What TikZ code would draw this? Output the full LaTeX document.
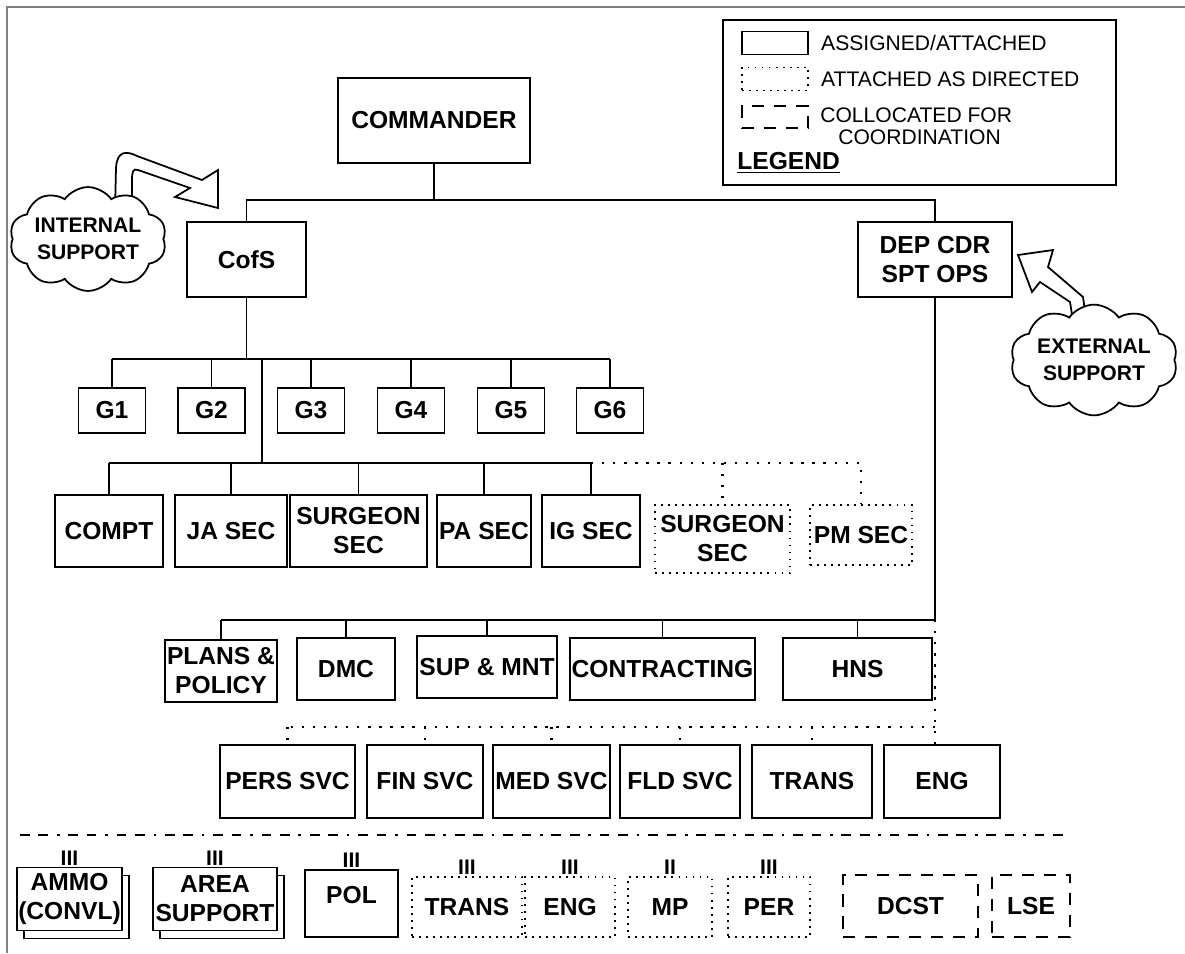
\documentclass[tikz,border=0pt]{standalone}
\usepackage{fontspec}
\setmainfont{Liberation Sans}
\usetikzlibrary{positioning, shapes.symbols, shadows}

\begin{document}
\begin{tikzpicture}[x=0.02cm,y=-0.02cm,
	unit/.style={draw, fill=white, line width=1pt, align=center, inner sep=0pt, font=\bfseries\fontsize{14}{16.5}\selectfont},
	adir/.style={unit, dash pattern=on 1pt off 3pt},
	coll/.style={unit, line width=1.6pt, dash pattern=on 7pt off 5.5pt},
	stack/.style={copy shadow={shadow xshift=0.14cm, shadow yshift=-0.16cm, draw=black, fill=white, line width=1pt}},
	link/.style={line width=1pt},
	dlink/.style={line width=1.3pt, dash pattern=on 1.3pt off 5pt},
	sup/.style={cloud, draw, fill=white, line width=1pt, cloud puffs=10, cloud puff arc=110, aspect=1.8, align=center, inner sep=0pt, font=\bfseries\fontsize{12}{15}\selectfont},
	ech/.style={inner sep=0pt, font=\bfseries\fontsize{12}{12}\selectfont},
	key/.style={anchor=west, inner sep=0pt, font=\fontsize{12}{14}\selectfont}]
	\useasboundingbox (0,0) rectangle (1185,953);
	\draw[gray, line width=1.2pt] (7,953) -- (7,7) -- (1185,7);

	\draw[line width=1pt] (723,20) rectangle (1116,185);
	\node[draw, line width=1pt, minimum width=1.32cm, minimum height=0.46cm] (kA) at (775,43) {};
	\node[key, right=0.24cm of kA] {ASSIGNED/ATTACHED};
	\node[draw, line width=1pt, dash pattern=on 1pt off 3pt, minimum width=1.32cm, minimum height=0.46cm] (kB) at (775,79) {};
	\node[key, right=0.24cm of kB] {ATTACHED AS DIRECTED};
	\node[draw, line width=1.6pt, dash pattern=on 7pt off 5.5pt, minimum width=1.32cm, minimum height=0.44cm] (kC) at (775,117) {};
	\node[key] at (820,115) {COLLOCATED FOR};
	\node[key] at (838,137) {COORDINATION};
	\node[anchor=west, inner sep=0pt, font=\bfseries\fontsize{14}{16}\selectfont] at (737,163) {\underline{LEGEND}};

	\node[unit, minimum width=3.84cm, minimum height=1.7cm] (CDR) at (434,120.5) {COMMANDER};
	\node[unit, minimum width=2.38cm, minimum height=1.5cm] (CofS) at (246.5,259.5) {CofS};
	\node[unit, minimum width=3.08cm, minimum height=1.5cm] (DEP) at (935,259.5) {DEP CDR\\SPT OPS};

	\foreach \n/\x in {1/112,2/211.5,3/311,4/411,5/511,6/610}
		\node[unit, minimum width=1.34cm, minimum height=0.9cm] (G\n) at (\x,410.5) {G\n};

	\node[unit, minimum width=2.16cm, minimum height=1.44cm] (COMPT) at (109,531) {COMPT};
	\node[unit, minimum width=2.24cm, minimum height=1.44cm] (JA) at (231,531) {JA SEC};
	\node[unit, minimum width=2.74cm, minimum height=1.44cm] (SURG) at (358.5,531) {SURGEON\\SEC};
	\node[unit, minimum width=1.88cm, minimum height=1.44cm] (PA) at (484,531) {PA SEC};
	\node[unit, minimum width=1.96cm, minimum height=1.44cm] (IG) at (591,531) {IG SEC};
	\node[adir, minimum width=2.7cm, minimum height=1.36cm] (SURGA) at (722.5,539) {SURGEON\\SEC};
	\node[adir, minimum width=2.04cm, minimum height=1.2cm] (PM) at (861,535) {PM SEC};

	\node[unit, minimum width=2.24cm, minimum height=1.24cm] (PLANS) at (221,671) {PLANS \&\\POLICY};
	\node[unit, minimum width=1.96cm, minimum height=1.24cm] (DMC) at (346,669) {DMC};
	\node[unit, minimum width=2.8cm, minimum height=1.24cm] (SUP) at (487,667) {SUP \& MNT};
	\node[unit, minimum width=3.7cm, minimum height=1.24cm] (CONTR) at (662.5,669) {CONTRACTING};
	\node[unit, minimum width=2.98cm, minimum height=1.24cm] (HNS) at (857.5,669) {HNS};

	\node[unit, minimum width=2.7cm, minimum height=1.46cm] (PERS) at (287.5,781.5) {PERS SVC};
	\node[unit, minimum width=2.32cm, minimum height=1.46cm] (FIN) at (425,781.5) {FIN SVC};
	\node[unit, minimum width=2.34cm, minimum height=1.46cm] (MED) at (551.5,781.5) {MED SVC};
	\node[unit, minimum width=2.4cm, minimum height=1.46cm] (FLD) at (680,781.5) {FLD SVC};
	\node[unit, minimum width=2.4cm, minimum height=1.46cm] (TRANS) at (812,781.5) {TRANS};
	\node[unit, minimum width=2.32cm, minimum height=1.46cm] (ENG) at (942,781.5) {ENG};

	\draw[line width=1.6pt, dash pattern=on 5.5pt off 5pt on 5.5pt off 5pt on 1.5pt off 5pt] (20,835) -- (1071,835);

	\node[unit, stack, minimum width=2.1cm, minimum height=1.26cm] (AMMO) at (69.5,899) {AMMO\\(CONVL)};
	\node[unit, stack, minimum width=2.48cm, minimum height=1.26cm] (AREA) at (215,899) {AREA\\SUPPORT};
	\node[unit, text depth=0.35cm, minimum width=1.86cm, minimum height=1.34cm] (POL) at (351.5,903.5) {POL};
	\node[adir, minimum width=2.2cm, minimum height=1.2cm] (TRNbde) at (467,907) {TRANS};
	\node[adir, minimum width=1.8cm, minimum height=1.2cm] (ENGbde) at (570,907) {ENG};
	\node[adir, minimum width=1.68cm, minimum height=1.2cm] (MP) at (670,907) {MP};
	\node[adir, minimum width=1.64cm, minimum height=1.2cm] (PER) at (769,907) {PER};
	\node[coll, minimum width=2.7cm, minimum height=1.24cm] (DCST) at (910.5,906) {DCST};
	\node[coll, minimum width=1.56cm, minimum height=1.24cm] (LSE) at (1031,906) {LSE};
	\foreach \u in {AMMO,AREA,POL,TRNbde,ENGbde,PER}
		\node[ech, above=0.5pt of \u] {III};
	\node[ech, above=0.5pt of MP] {II};

	\coordinate (top) at (434,200);
	\draw[link] (CDR) -- (top);
	\draw[link] (CofS.north) |- (top) -| (DEP.north);
	\draw[link] (CofS.south) -- ++(0,61) coordinate (gbus);
	\draw[link] (G1.north |- gbus) -- (G6.north |- gbus);
	\foreach \g in {G1,G2,G3,G4,G5,G6}
		\draw[link] (\g.north) -- (\g.north |- gbus);
	\coordinate (staff) at (262,463);
	\draw[link] (staff |- gbus) -- (staff);
	\draw[link] (COMPT.north |- staff) -- (IG.north |- staff);
	\foreach \s in {COMPT,JA,SURG,PA,IG}
		\draw[link] (\s.north) -- (\s.north |- staff);
	\draw[dlink] (IG.north |- staff) -- (PM.north |- staff) -- (PM.north);
	\draw[dlink] (SURGA.north |- staff) -- (SURGA.north);

	\coordinate (sptbus) at (935,620);
	\draw[link] (DEP.south) -- (sptbus) -- (PLANS.north |- sptbus);
	\foreach \s in {PLANS,DMC,SUP,CONTR,HNS}
		\draw[link] (\s.north) -- (\s.north |- sptbus);
	\draw[dlink] (sptbus) -- (sptbus |- ENG.north);
	\coordinate (svcbus) at (935,727);
	\draw[dlink] (svcbus) -- (PERS.north |- svcbus);
	\foreach \s in {PERS,FIN,MED,FLD,TRANS}
		\draw[dlink] (\s.north |- svcbus) -- (\s.north);

	\draw[line width=1pt, fill=white] (115,210) -- (116,168) .. controls (117,150) and (127,151) .. (137,156) -- (202,180) -- (218,170) -- (218,208) -- (175,197) -- (190,188) -- (138,170) .. controls (133,168) and (132,172) .. (132,180) -- (132,210);
	\node[sup, minimum width=2.9cm, minimum height=1.5cm] (INT) at (88,239) {INTERNAL\\SUPPORT};
	\draw[line width=1pt, fill=white] (1076,340) -- (1070,302) -- (1040,282) -- (1032,292) -- (1018,255) -- (1053,250) -- (1048,267) -- (1083,297) -- (1089,340);
	\node[sup, minimum width=2.9cm, minimum height=1.5cm] (EXT) at (1094,360) {EXTERNAL\\SUPPORT};
\end{tikzpicture}
\end{document}
